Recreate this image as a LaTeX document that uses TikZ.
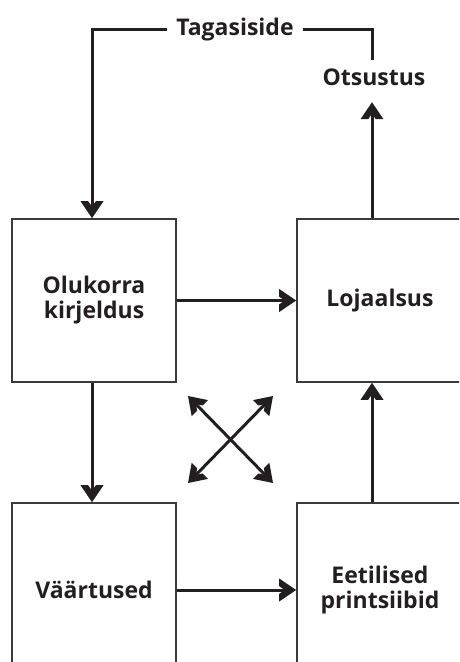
\documentclass[tikz,border=0pt]{standalone}
\usepackage{fontspec}
\setmainfont{Open Sans}
\usetikzlibrary{arrows.meta}
\definecolor{ink}{HTML}{231F20}
\definecolor{frame}{HTML}{3A3A3A}

% filled chevron head with a flat-cut back and a notch
\pgfdeclarearrow{
  name=Chev,
  parameters={},
  setup code={
    \pgfarrowssettipend{0pt}
    \pgfarrowssetlineend{-7pt}
    \pgfarrowssetbackend{-17pt}
    \pgfarrowshullpoint{0pt}{0pt}
    \pgfarrowshullpoint{-17pt}{11.5pt}
    \pgfarrowshullpoint{-17pt}{-11.5pt}
  },
  drawing code={
    \pgfpathmoveto{\pgfpointorigin}
    \pgfpathlineto{\pgfpoint{-17pt}{11.5pt}}
    \pgfpathlineto{\pgfpoint{-17pt}{3.8pt}}
    \pgfpathlineto{\pgfpoint{-11.4pt}{0pt}}
    \pgfpathlineto{\pgfpoint{-17pt}{-3.8pt}}
    \pgfpathlineto{\pgfpoint{-17pt}{-11.5pt}}
    \pgfpathclose
    \pgfusepathqfill
  }
}

\tikzset{
  box/.style={draw=frame, line width=1.6pt, minimum width=#1, inner sep=0pt,
              font=\fontsize{23}{25}\selectfont\bfseries, text=ink, align=center},
  box/.default=164pt,
  lbl/.style={font=\fontsize{23}{25}\selectfont\bfseries, text=ink,
              inner sep=0pt, text height=17pt, text depth=0pt},
  link/.style={draw=ink, line width=3pt},
  arr/.style={link, -Chev},
  darr/.style={link, Chev-Chev}
}
\begin{document}
\begin{tikzpicture}[x=1pt, y=-1pt]
  \useasboundingbox (0,0) rectangle (459,662);
  \clip (0,0) rectangle (459,662);

  % the four boxes
  \node[box, minimum height=163pt] (olu) at (94,300.5) {Olukorra\\kirjeldus};
  \node[box=166pt, minimum height=163pt] (loj) at (380,300.5) {Lojaalsus};
  \node[box, minimum height=174pt] (vaa) at (94,590) {Väärtused};
  \node[box=166pt, minimum height=174pt] (eet) at (380,590) {Eetilised\\printsiibid};

  % labels of the feedback loop
  \node[lbl, anchor=base] (ots) at (374,85) {Otsustus};
  \node[lbl, anchor=base, inner xsep=9pt] (tag) at (235,35) {Tagasiside};

  % guide positions
  \coordinate (rx) at (372,0);
  \coordinate (lx) at (92,0);
  \coordinate (topy) at (0,29);

  % main flow
  \draw[arr] (olu.east) -- (loj.west);
  \draw[arr] (vaa.east) -- (eet.west);
  \draw[arr] (olu.south -| lx) -- (vaa.north -| lx);
  \draw[arr] (eet.north -| rx) -- (loj.south -| rx);
  \draw[arr] (loj.north -| rx) -- ([yshift=-17pt]ots.south -| rx);

  % feedback loop
  \draw[link] ([yshift=8pt]ots.north -| rx) -- (rx |- topy) -- (tag.east |- topy);
  \draw[arr] (tag.west |- topy) -- (lx |- topy) -- (olu.north -| lx);

  % crossing double arrows
  \coordinate (c1) at (188,396);
  \coordinate (c2) at (273,483);
  \coordinate (c3) at (273,396);
  \coordinate (c4) at (188,483);
  \draw[darr] (c1) -- (c2);
  \draw[darr] (c3) -- (c4);
\end{tikzpicture}
\end{document}
